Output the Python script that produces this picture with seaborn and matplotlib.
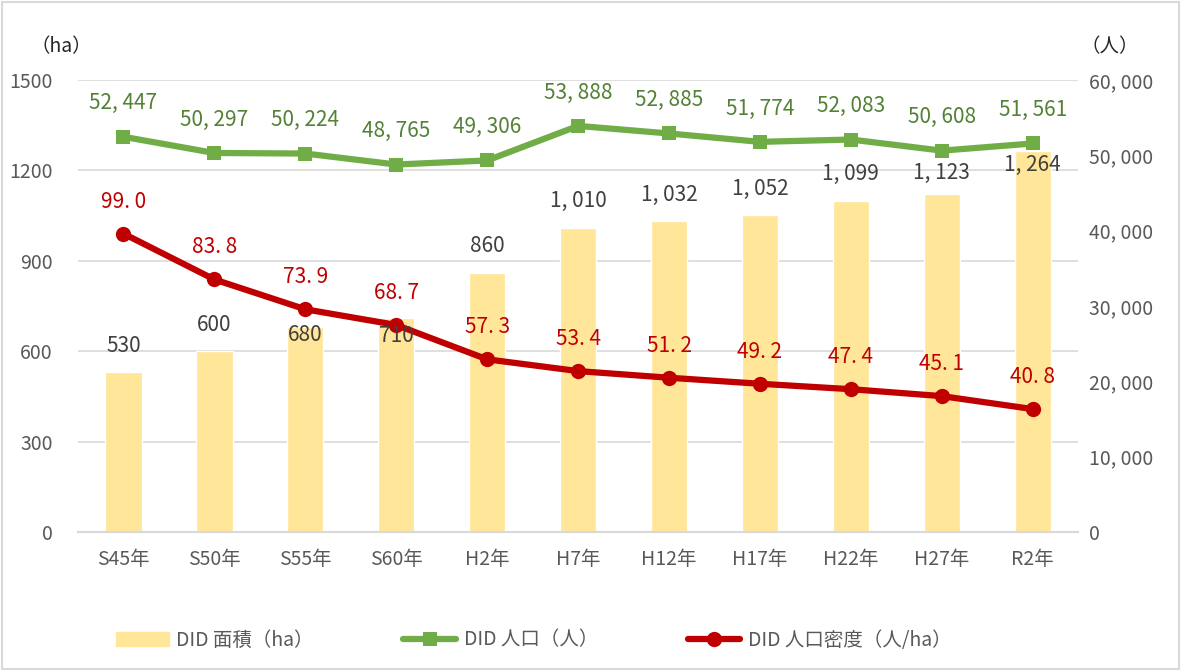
import seaborn as sns
import pandas as pd
import matplotlib.pyplot as plt
import matplotlib.patches as mpatches
import numpy as np

# データ
years = ['S45年', 'S50年', 'S55年', 'S60年', 'H2年', 'H7年', 'H12年', 'H17年', 'H22年', 'H27年', 'R2年']
area = [530, 600, 680, 710, 860, 1010, 1032, 1052, 1099, 1123, 1264]
population = [52447, 50297, 50224, 48765, 49306, 53888, 52885, 51774, 52083, 50608, 51561]
density = [99.0, 83.8, 73.9, 68.7, 57.3, 53.4, 51.2, 49.2, 47.4, 45.1, 40.8]

# 面積ラベルの縦位置 (points)
area_label_dy = [19, 19, -6, -13, 19, 19, 19, 19, 19, 15, -10]

sns.set_style('white')
plt.rcParams['font.family'] = ['Noto Sans CJK JP', 'DejaVu Sans']

df = pd.DataFrame({'year': years, 'area': area, 'pop': population, 'density': density})
df['pos'] = np.arange(len(df))
df['density_scaled'] = df['density'] * 10  # 左軸 (ha) のスケールに合わせる

bar_c = '#FFE699'
green = '#70AD47'
red = '#C00000'
gray = '#595959'

fig = plt.figure(figsize=(11.81, 6.71), dpi=100)
ax = fig.add_axes([0.066, 0.207, 0.847, 0.674])
ax2 = ax.twinx()

sns.barplot(data=df, x='year', y='area', color=bar_c, saturation=1, width=0.4, ax=ax, zorder=2)
sns.lineplot(data=df, x='pos', y='density_scaled', color=red, lw=4.5, marker='o', markersize=11,
             markeredgewidth=0, ax=ax, zorder=4)
sns.lineplot(data=df, x='pos', y='pop', color=green, lw=4.5, marker='s', markersize=10,
             markeredgewidth=0, ax=ax2, zorder=4)

ax.set_xlim(-0.5, len(years) - 0.5)
ax.set_ylim(0, 1500)
ax2.set_ylim(0, 60000)
ax.set_yticks(range(0, 1501, 300))
ax2.set_yticks(range(0, 60001, 10000))
ax2.set_yticklabels([f'{v:,}'.replace(',', ', ') for v in range(0, 60001, 10000)])
ax.set_xlabel('')
ax.set_ylabel('')
ax2.set_ylabel('')

ax.grid(axis='y', color='#D9D9D9', lw=1.2, zorder=0)
ax.set_axisbelow(True)
for a in (ax, ax2):
    for s in ('top', 'left', 'right'):
        a.spines[s].set_visible(False)
    a.spines['bottom'].set_color('#D9D9D9')
    a.spines['bottom'].set_linewidth(1.5)
    a.tick_params(length=0, labelsize=14, labelcolor=gray)
ax.tick_params(axis='x', labelsize=14, pad=12)
ax.tick_params(axis='y', pad=18)
ax2.tick_params(axis='y', pad=8)

# ラベル
for i, v in enumerate(area):
    ax.annotate(f'{v:,}'.replace(',', ', '), (i, v), xytext=(0, area_label_dy[i]), textcoords='offset points',
                ha='center', va='center', fontsize=15, color='#404040', zorder=5)
for i, v in enumerate(density):
    ax.annotate(f'{v:.1f}'.replace('.', '. '), (i, v * 10), xytext=(0, 23), textcoords='offset points',
                ha='center', va='center', fontsize=15, color=red, zorder=5)
for i, v in enumerate(population):
    ax2.annotate(f'{v:,}'.replace(',', ', '), (i, v), xytext=(0, 24), textcoords='offset points',
                 ha='center', va='center', fontsize=15, color='#538135', zorder=5)

fig.text(0.052, 0.93, '（ha）', fontsize=14, color='#262626', ha='center', va='center')
fig.text(0.94, 0.93, '（人）', fontsize=14, color='#262626', ha='center', va='center')

handles = [
    mpatches.Patch(color=bar_c, label='DID 面積（ha）'),
    plt.Line2D([], [], color=green, lw=4.5, marker='s', markersize=10, markeredgewidth=0, label='DID 人口（人）'),
    plt.Line2D([], [], color=red, lw=4.5, marker='o', markersize=11, markeredgewidth=0, label='DID 人口密度（人/ha）'),
]
leg = fig.legend(handles=handles, loc='center', bbox_to_anchor=(0.452, 0.046), ncol=3, frameon=False,
                 fontsize=14, handlelength=2.7, columnspacing=4.6, handletextpad=0.4)
for t in leg.get_texts():
    t.set_color(gray)

fig.patches.append(mpatches.Rectangle((0.002, 0.003), 0.996, 0.994, transform=fig.transFigure,
                                      fill=False, edgecolor='#D9D9D9', lw=1.5))

fig.savefig('out.png', dpi=100)
